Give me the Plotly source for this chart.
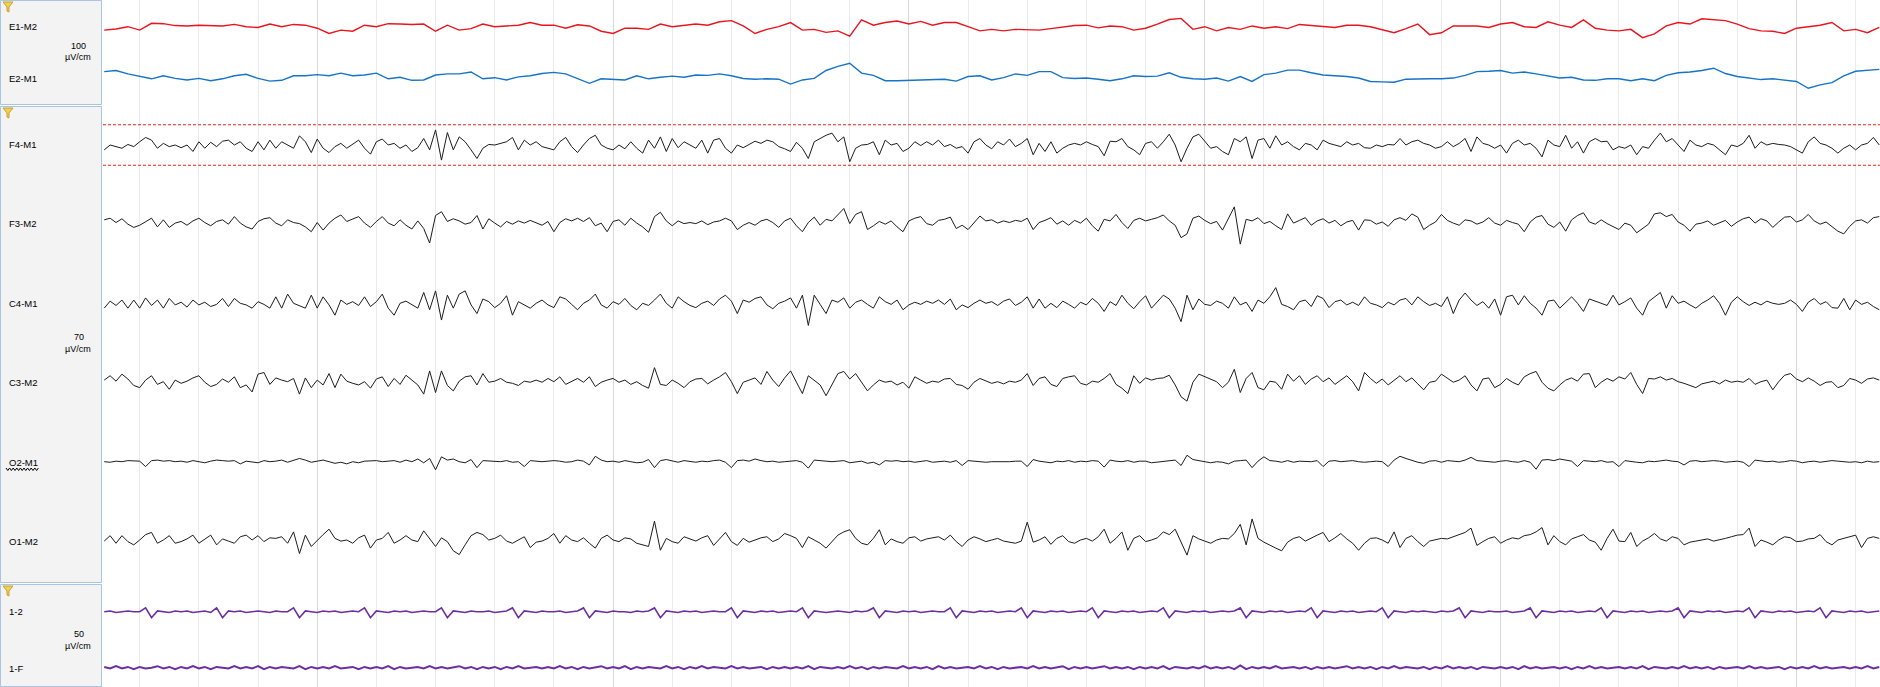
import numpy as np
import plotly.graph_objects as go

W, H = 1880, 687
PLOT_LEFT_PX = 103
T_LEFT, T_RIGHT = 0.3798, 30.412     # seconds visible in the page
PX_PER_CM = 37.8

# ---------------- data (µV, positive = up), EEG/purple sampled every 0.1 s from 0.4 s ----------------
EEG_T0, EEG_DT = 0.4, 0.1
EOG_T0, EOG_DT = 0.4, 0.2

F4_M1 = [-9, 0, -3, -6, 1, -3,
         6, 14, 9, -6, 3, -3, 0, -5, 0, -12,
         6, -6, 5, -3, 7, 9, 0, 6, -6, -12,
         6, -9, 9, -6, 6, 0, -6, 17, 6, -14,
         11, -6, -14, -3, 3, -6, 1, 9, -6, -17,
         6, 11, 0, 3, -6, 0, -12, -5, 12, -9,
         28, -28, 23, -9, 15, 6, -9, -25, -6, 1,
         0, 3, 6, 14, -9, 9, 0, 6, -3, -6,
         -9, 6, 14, -3, -14, 0, 12, 18, 0, -6,
         -9, 0, -7, 6, -6, -15, 9, -6, 15, -12,
         12, -5, 6, 0, -6, 9, -15, 9, 12, -6,
         -15, 0, -5, 1, 7, 3, 9, 6, -3, -7,
         -12, 5, -6, -25, 6, 12, 18, 22, 6, 15,
         -31, -6, 0, 1, 6, -18, 9, 0, 3, -12,
         -6, 6, -1, 6, 0, 9, -3, 1, -6, -3,
         -15, 6, 12, 0, -7, 6, 0, 11, -3, 3,
         12, -18, 3, -12, 6, -15, -6, 0, 3, 0,
         6, 1, -3, -20, 7, 6, 12, -3, -9, -18,
         3, 6, -6, 6, 20, 0, -31, -6, 15, 20,
         6, -6, -3, -12, -18, 12, 6, 15, -25, 9,
         12, -6, 17, 0, 6, -3, -9, 3, 0, -9,
         9, 3, 0, -3, 6, 0, 3, -5, -6, 0,
         -3, 1, 0, 12, 0, 6, 9, 3, 0, -6,
         -3, 6, -3, 3, 12, -12, 15, 3, 0, -6,
         0, -15, 3, 9, 0, 3, -6, -22, 9, 0,
         -3, 18, -6, 6, -15, 6, 12, 6, 7, -9,
         -3, -6, 0, -18, -3, -6, 9, 22, 6, 12,
         0, -12, 9, 0, -3, 3, 0, -9, -18, 0,
         -3, 3, 18, -6, 6, 0, 3, 1, 0, -3,
         -9, -15, 6, 15, 3, 0, -6, -15, -6, 0,
         -9, 0, 3, 14, 0]

F3_M2 = [4, 7, -1, 6, -4, -10,
         -6, 1, 7, -9, 4, -10, -2, 1, -6, 2,
         7, -1, -7, 1, 4, -4, 10, -2, -9, -13,
         1, 6, 8, -2, -7, 4, -1, -3, -9, -18,
         -1, -15, -2, 7, 13, 1, 6, 10, -2, -10,
         1, 10, -2, -7, 4, -6, -13, 2, -12, -39,
         12, 19, 1, 6, 2, -4, -1, 12, -13, 6,
         -2, -9, 1, -4, 2, -2, 3, -1, -6, 1,
         -18, -1, 6, 2, 7, 1, 8, -7, -2, -18,
         1, 4, -6, 7, -2, -9, -19, 10, 18, 2,
         -7, 2, -3, -1, -3, 2, -5, 0, 2, 7,
         2, -14, -6, -1, -6, 2, 5, -1, -10, 2,
         7, -7, -18, -1, 9, -6, 5, 2, 13, 25,
         -3, 14, 19, -14, -7, 1, -4, 2, -9, -18,
         2, 7, 10, -3, -6, 3, 5, 9, -12, -6,
         -14, -1, 11, 2, 4, -2, 2, -1, 3, 1,
         7, -14, -1, 3, 8, -4, 2, -6, 3, -2,
         7, -7, -17, 5, 2, 14, -1, -12, 3, 7,
         2, 5, 8, 13, 2, -6, -29, -22, 7, 11,
         3, -3, 1, -15, 7, 28, -41, 5, 2, 8,
         -3, 1, -7, -14, 15, -2, 3, 8, -6, 2,
         6, -2, 3, -7, 0, 3, -15, 4, 3, -4,
         0, -8, 4, 8, 3, 15, 9, -14, -6, 0,
         14, 3, -2, -6, 4, 2, -4, 0, 8, -2,
         -6, 3, -1, -4, -18, 0, 9, 12, -4, -10,
         0, -17, 4, 12, 17, 0, -4, 4, -3, -8,
         -14, -2, -6, -20, -12, -4, 15, 17, 10, 14,
         0, -6, -17, -4, -2, 2, -6, -1, 3, -8,
         0, 6, 9, -2, 6, 2, -10, 0, 9, 10,
         0, 4, 14, 2, -4, 0, -8, -17, -22, -8,
         2, 4, -2, 8, 10]

C4_M1 = [-9, 4, -4, 6, -9, 6,
         -9, 10, -4, 6, -9, 9, -3, 2, -7, 6,
         -3, 2, -6, -2, 9, -6, 9, 0, -3, -9,
         3, -2, -9, 12, -9, 17, 0, -4, -9, 15,
         -9, 12, -3, -22, 6, -2, 3, -4, 12, -6,
         3, 17, -9, -22, 0, 4, -3, -9, 20, -12,
         23, -31, 15, -9, 17, 23, -3, -19, 8, 3,
         -8, 0, 14, -22, 3, -3, -9, 0, 6, -3,
         -8, 12, 8, -2, -12, 0, 6, 17, -3, -9,
         3, -2, 9, -4, -12, 0, -4, 6, 17, 0,
         -9, 12, 3, -4, -8, 0, 4, -4, 8, 15,
         4, -19, 6, 2, 9, 12, -3, -10, 0, 4,
         10, -9, 15, -41, 15, -2, -19, 6, 2, 10,
         -9, 2, 6, -2, -9, 12, 3, -2, 6, -12,
         -3, 2, -2, 4, 0, 6, -2, 8, -12, -3,
         -8, 0, 6, 0, 3, -4, 4, 8, -4, 2,
         12, -9, 8, -9, 0, -8, 4, -2, -9, 2,
         -3, 9, 0, -15, 3, -4, 15, 0, -10, 3,
         14, -9, 4, 15, 8, -9, -34, 15, -12, 8,
         -2, -4, 4, 0, -9, 12, -3, 2, -15, 6,
         0, 12, 29, -2, -6, -12, 3, 6, -6, 14,
         9, -8, 3, 6, -3, 2, -4, 12, 0, -3,
         -8, 2, -3, 6, 9, -3, 12, 3, -4, 0,
         -6, 12, -19, 6, 19, 6, -4, 3, -9, 8,
         -22, 12, 15, -3, 14, 0, -9, -22, 4, 6,
         -9, 2, 12, 0, -15, 8, 4, 0, -4, 15,
         -3, 3, 10, -9, -22, 3, 12, 20, -9, 14,
         0, 4, -3, -9, 0, 6, 14, 0, -22, 2,
         12, 3, -4, 2, -3, 4, 0, -2, 0, 6,
         -2, -15, 2, 9, -2, 3, -8, -9, 9, -12,
         6, -2, 2, -6, -12]

C3_M2 = [3, 11, 1, 14, 5, -7,
         -11, 3, 11, -5, 0, -14, 3, -3, 1, 7,
         11, -1, -9, -5, 5, -1, 9, -11, -6, -19,
         14, 17, -5, 7, 3, 0, 6, -23, 7, -11,
         3, -6, 15, -11, 14, 1, -3, -6, 0, -12,
         5, 9, -9, 6, -5, 12, 3, -6, -23, 20,
         -20, 20, -7, -17, 1, 9, 11, -6, 15, -1,
         1, 6, -1, -3, -7, 1, -1, 3, -1, 6,
         0, 9, -5, 1, 6, -1, 9, -9, -1, 3,
         6, -1, 3, -5, 0, -7, -12, 26, -5, -7,
         3, -3, -11, 0, 5, 6, -4, 3, 9, 17,
         0, -22, -1, 3, 7, -5, 19, 3, -9, 7,
         20, -1, -22, 11, 3, -6, -26, -6, 15, 19,
         5, 15, 0, -17, -6, 3, -1, 1, -6, -1,
         -12, 9, 3, -3, 1, -1, 5, 6, -5, -7,
         -14, -1, 6, 1, -3, 0, -4, 1, -1, 3,
         15, -7, 6, 9, -5, -9, 6, 9, 11, -3,
         -6, 1, -1, 6, 15, -5, -12, -22, 11, -3,
         7, 3, 6, 7, 12, -6, -28, -36, -1, 14,
         9, 5, 0, -11, -1, 23, -20, 6, 17, -11,
         -15, 1, -1, -14, 14, 1, 11, -5, 5, 11,
         0, 7, -5, 3, 11, 0, -17, 17, 6, -3,
         5, -6, 3, 11, 0, 7, -4, -15, -1, 1,
         14, 6, -1, 3, 11, -6, -17, 5, 7, -11,
         -5, 6, -1, -6, 9, 15, 19, -1, -12, -17,
         -6, 3, 7, 1, 14, 15, -11, -1, 6, 1,
         9, 5, 17, -5, -22, 6, 5, 9, 3, 6,
         0, -3, -7, -11, -4, -1, 1, -4, 3, -1,
         1, -1, 6, -5, 0, 3, -15, 0, 12, 15,
         5, 0, 7, 1, -7, -1, 0, -11, -7, 6,
         3, -3, 5, 7, 3]

O2_M1 = [0, -1, 1, 0, 2, 1,
         1, -9, 2, 3, 1, 2, 0, 1, -1, 2,
         0, -2, 1, 3, 2, 1, 2, -4, 1, 0,
         -2, 2, 0, 1, 3, -1, 2, 6, 3, -1,
         1, 3, 0, -3, -1, -4, 0, -2, 1, 2,
         2, 0, 1, 2, -1, 3, 0, 5, -2, 6,
         -15, 9, 3, 5, 0, -2, 4, -11, 2, 1,
         1, 0, 2, -1, 0, -9, 2, 1, 0, 1,
         2, 1, -1, 0, 3, 1, -6, 10, 3, 0,
         1, -1, 2, 0, -2, -1, 4, -11, 2, 4,
         1, -1, 2, 0, -1, 1, 0, 2, 3, -1,
         -11, 2, 3, 1, 5, 2, 0, 1, -1, 0,
         1, 2, -1, -12, 3, 2, 1, 0, 1, 2,
         -2, 0, 1, -3, -1, -6, 2, 1, 2, 0,
         1, -1, 0, 2, -1, 0, 1, -1, 2, -7,
         2, 1, 0, -1, 0, 0, -1, 0, 1, 1,
         -9, 4, 1, 0, -2, 1, 0, 2, -1, 1,
         0, 2, 1, -10, 3, 1, 0, 2, -1, 1,
         1, -2, -1, 0, 2, 3, -7, 12, 4, 2,
         1, -2, 0, -1, -4, 1, 2, 3, -11, 1,
         9, 2, 1, -1, 2, -1, 1, 0, 0, 2,
         -9, 1, 2, 0, 1, 2, 0, -1, 0, 1,
         0, -9, 3, 10, 6, 2, -1, -3, 1, 2,
         -1, 2, 1, 0, 3, 8, 2, 1, 0, -1,
         1, 2, 0, -1, 2, -1, -14, 3, 4, 2,
         5, 3, 1, -9, 2, 1, 0, 2, -1, 0,
         -9, 2, 0, -1, -2, 1, 0, 2, 3, 1,
         0, -6, 1, 2, 0, 1, 2, 1, -1, 0,
         1, -1, -9, 3, 2, 0, 1, -1, 0, 2,
         1, -2, 0, 1, -1, 0, 2, 1, 0, -1,
         0, -2, 1, -1, 0]

O1_M2 = [-2, 8, -6, 8, -3, -9,
         0, 10, 14, -6, 0, 8, -6, -3, 2, 9,
         -6, 2, 9, -9, 2, -2, -6, 6, 9, 0,
         8, -3, 4, 3, 6, -6, 15, -25, 9, -12,
         0, 10, 20, 3, -2, 0, -6, 4, 9, -15,
         0, 3, 14, -6, 0, 8, 0, -3, 17, 3,
         -12, 4, -3, -20, -27, -9, 8, 14, 10, 0,
         3, 9, -2, -6, 0, 6, -14, -4, -2, 3,
         12, -6, 8, 0, -3, 4, -6, -15, 3, 9,
         0, -3, 4, 2, -6, -9, -12, 35, -19, 3,
         -3, -6, 6, 2, -2, 4, 8, -10, 2, 14,
         -3, -10, 3, -4, 0, 4, 6, -3, 2, 12,
         8, 3, -14, 6, 0, -6, -15, -2, 9, 15,
         19, 3, -6, -9, 3, 19, -9, 2, -3, -6,
         4, 6, -2, 2, 4, 6, 0, 9, -3, -12,
         0, 6, 2, -3, 0, 3, -2, -4, -6, -2,
         33, -4, 0, 6, -8, 3, 8, -3, -6, 0,
         3, -2, 6, 20, -6, 3, 15, -19, 3, 8,
         -3, 0, 4, 15, 10, 20, -3, -28, 8, 2,
         -2, -6, 0, 3, 2, 12, 29, -9, 39, 3,
         -4, -10, -15, -20, -4, 3, 6, -2, 4, 9,
         14, -3, 4, 12, 2, -6, -19, -6, 3, 4,
         0, -6, 15, -14, 3, 8, -3, -12, -2, 0,
         3, 2, 6, 9, 14, 22, -10, -3, 3, 6,
         -6, 0, 4, 2, 8, 10, 15, 23, -9, 8,
         -3, -9, 2, 6, 10, 0, -4, -19, 3, 20,
         -2, -3, 14, -12, -2, 4, 12, 2, -2, 6,
         3, -9, -4, -2, 0, 2, -2, 0, 3, 6,
         9, 10, 22, -12, 0, -4, -9, 0, 6, 4,
         -3, -2, 2, 3, 10, -3, -9, 0, 3, 6,
         9, -14, 3, 6, 3]

# EOG, every 0.2 s from 0.4 s
E1_M2 = [-9, -6, 0, -9, 9, 8, 3, 2, 4, 2, 2, 6, 0, -2, 7, 0, 6, 4, -4, -18,
         -9, -12, 4, 0, 8, 7, 6, 7, -12, 4, -9, -5, 7, 0, 2, 4, 11, 4, 4, -4,
         5, 2, -12, -18, -4, -4, -7, 7, 0, 4, 7, 4, 13, 16, 2, -18, -7, 0, 11,
         -9, -7, -15, -11, -25, 18, 4, 11, 15, 7, 14, 4, 11, 11, 0, -11, -7, -11, -7, -9,
         -9, -5, 0, 3, 4, -3, 2, 0, -9, -4, 7, 19, 22, -7, 0, -11, -2, -7, 2, -4,
         0, -5, 6, 4, 0, -2, 4, 4, 0, -9, -16, -5, 7, -21, -16, 2, 2, 2, -2,
         7, 11, 0, -2, 13, 4, -2, 18, -4, -9, -11, -7, -29, -19, 2, 11, 7, 21, 18, 16,
         7, -5, -11, -12, -18, -4, 0, 4, 11, -11, -7, -16, -2]

E2_M1 = [15, 18, 9, 2, -4, 4, -3, -7, -3, -9, -4, 4, 8, -3, -10, -8, 4, 4, 7, 4,
         11, 4, 6, 11, -4, 0, -8, -7, 6, 9, 9, 14, -4, -1, -7, 1, 4, 10, 13, 9,
         -3, -16, -4, -5, -7, 4, -4, 0, 3, 0, 6, 5, 9, 4, -3, -5, -4, -5, -18,
         -7, -3, 18, 29, 37, 11, 5, -9, -9, -8, -8, -5, -5, -10, 2, 4, -7, -1, 9, 5,
         15, 15, -1, -3, -2, -5, -9, -4, 4, 2, 3, 12, 0, -4, -5, -2, -10, 2, -11, 7,
         11, 19, 19, 12, 6, 4, 2, -2, -11, -12, -13, -5, -4, -4, -4, -2, 5, 15, 16,
         18, 11, 14, 9, 4, -2, 0, -7, -8, -4, -4, -9, -4, -9, 5, 12, 14, 18, 24, 10,
         2, -3, -6, -4, -7, -11, -29, -20, -14, 4, 16, 19, 21]

CH_1_2 = [0, 1, -1, 0, 1, 0,
          0, 5, -8, 1, 0, -1, 1, 0, 1, -1,
          0, 1, -1, 5, -8, 1, 0, 1, -1, 0,
          1, 0, -1, 1, 0, 0, 5, -8, 1, 0,
          -1, 1, 0, 1, -1, 0, 1, 0, 5, -8,
          1, 0, -1, 1, 0, 1, -1, 0, 1, 0,
          0, 5, -8, 1, 0, -1, 1, 0, 0, 1,
          -1, 0, 1, 5, -8, 1, 0, -1, 1, 0,
          0, 1, -1, 0, 1, 5, -8, 1, 0, -1,
          1, 0, 0, -1, 1, 0, 1, 5, -8, 1,
          0, -1, 1, 0, 1, -1, 0, 1, 0, 0,
          5, -8, 1, 0, -1, 1, 0, 1, -1, 0,
          1, 0, 5, -8, 1, 0, -1, 0, 1, 0,
          -1, 1, 0, 1, 5, -8, 1, 0, -1, 1,
          0, 1, -1, 0, 1, 0, 0, 5, -8, 1,
          0, -1, 1, 0, 1, -1, 0, 1, 0, 5,
          -8, 1, 0, -1, 1, 0, 1, -1, 0, 1,
          0, 5, -8, 1, 0, -1, 1, 0, 1, -1,
          0, 1, 0, 5, -8, 1, 0, -1, 1, 0,
          1, -1, 0, 1, 0, 1, 5, -8, 1, 0,
          -1, 1, 0, 1, -1, 0, 1, 0, 5, -8,
          1, 0, -1, 1, 0, 1, -1, 0, 1, 0,
          5, -8, 1, 0, -1, 1, 0, 1, 0, -1,
          1, 0, 1, 5, -8, 1, 0, -1, 1, 0,
          0, 1, -1, 0, 1, 5, -8, 1, 0, -1,
          1, 0, 1, -1, 0, 1, 0, 5, -8, 1,
          0, -1, 1, 0, 1, -1, 0, 1, 0, 1,
          5, -8, 1, 0, -1, 1, 0, 1, -1, 0,
          1, 0, 5, -8, 1, 0, -1, 1, 0, 1,
          -1, 0, 1, 0, 5, -8, 1, 0, -1, 1,
          0, 1, -1, 0, 1]

CH_1_F = [1, -1, 2, -1, 1, -2,
          1, -1, 0, 2, -1, 1, -2, 1, -1, 2,
          -1, 1, -2, 1, 0, -1, 2, -1, 1, -1,
          2, -2, 1, -1, 1, 0, -1, 2, -2, 1,
          -1, 1, -1, 2, -1, 0, 1, -2, 1, -1,
          1, -1, 2, -2, 1, -1, 0, 1, -1, 2,
          -1, 1, -1, 0, 2, -1, 1, -2, 1, -1,
          1, -2, 1, -1, 2, -1, 0, 1, -1, 1,
          -1, 2, -1, 1, -2, 1, -1, 0, 2, -1,
          1, -1, 2, -2, 1, -1, 1, 0, -1, 2,
          -1, 1, -2, 1, -1, 2, -1, 1, 0, -1,
          2, -1, 1, -1, 0, 1, -2, 1, -1, 1,
          -1, 1, -1, 2, -2, 1, 0, -1, 1, -1,
          2, -1, 1, -2, 1, -1, 1, 0, -1, 2,
          -1, 1, -1, 1, -2, 2, -1, 1, -1, 0,
          1, -1, 2, -1, 1, -2, 1, -1, 0, 1,
          -1, 2, -1, 1, -1, 0, 2, -2, 1, -1,
          1, -1, 0, 2, -1, 1, -1, 1, -2, 1,
          -1, 1, -1, 2, -2, 1, 0, -1, 1, -1,
          2, -1, 1, -1, 1, -2, 3, -2, 1, -1,
          1, -1, 2, -1, 0, 1, -1, 1, -2, 1,
          -1, 1, -1, 0, 2, -1, 1, -1, 1, -2,
          1, -1, 2, -1, 1, 0, -1, 1, -2, 1,
          -1, 2, -1, 1, -1, 1, -2, 1, 0, -1,
          1, -1, 1, -2, 2, -1, 1, -1, 0, 1,
          -1, 1, -2, 1, -1, 2, -1, 1, -1, 0,
          1, -1, 1, -1, 2, -2, 1, 0, -1, 1,
          -1, 2, -1, 1, -1, 1, -2, 1, -1, 0,
          1, -1, 2, -1, 1, -1, 0, 1, -2, 1,
          -1, 1, -1, 2, -1, 1, -1, 0, 1, -1,
          1, -1, 2, -1, 1]

# channel list: name, values, t0, dt, baseline px from top, µV/cm, colour, width
CHANNELS = [
    ("E1-M2", E1_M2, EOG_T0, EOG_DT, 26.7, 100, "#e8141e", 1.4),
    ("E2-M1", E2_M1, EOG_T0, EOG_DT, 77.3, 100, "#1674c6", 1.4),
    ("F4-M1", F4_M1, EEG_T0, EEG_DT, 145.0, 70, "#1c1c1c", 1.0),
    ("F3-M2", F3_M2, EEG_T0, EEG_DT, 222.0, 70, "#1c1c1c", 1.0),
    ("C4-M1", C4_M1, EEG_T0, EEG_DT, 303.3, 70, "#1c1c1c", 1.0),
    ("C3-M2", C3_M2, EEG_T0, EEG_DT, 381.7, 70, "#1c1c1c", 1.0),
    ("O2-M1", O2_M1, EEG_T0, EEG_DT, 461.7, 70, "#1c1c1c", 1.0),
    ("O1-M2", O1_M2, EEG_T0, EEG_DT, 540.0, 70, "#1c1c1c", 1.0),
    ("1-2", CH_1_2, EEG_T0, EEG_DT, 611.7, 50, "#6b2fa0", 1.6),
    ("1-F", CH_1_F, EEG_T0, EEG_DT, 667.7, 50, "#6b2fa0", 2.0),
]
LABEL_Y = [27, 78, 145, 224, 303, 382, 462, 541, 611, 668]
SCALES = [("100", 46, 57), ("70", 337, 349), ("50", 634, 646)]
F4_DASH_UV = 37.5

# ---------------- figure ----------------
def px(x):
    return x / W


def py(y):
    return 1 - y / H


x_dom = [PLOT_LEFT_PX / W, 1]
baselines = [c[4] for c in CHANNELS]
bounds = [0.0] + [(a + b) / 2 for a, b in zip(baselines[:-1], baselines[1:])] + [float(H)]

fig = go.Figure()
layout_axes = {}
f4_axis = None
for i, (name, vals, t0, dt, yb, scale, color, width) in enumerate(CHANNELS):
    k = "" if i == 0 else str(i + 1)
    uv_per_px = scale / PX_PER_CM
    top, bot = bounds[i], bounds[i + 1]
    t = t0 + dt * np.arange(len(vals))
    fig.add_trace(go.Scatter(
        x=t, y=vals, mode="lines", name=name,
        line=dict(color=color, width=width),
        xaxis=f"x{k}", yaxis=f"y{k}", hoverinfo="skip", showlegend=False))
    layout_axes[f"xaxis{k}"] = dict(
        domain=x_dom, range=[T_LEFT, T_RIGHT], anchor=f"y{k}",
        showgrid=True, gridcolor="#d9d9d9", gridwidth=1, tick0=4, dtick=5,
        minor=dict(tick0=0, dtick=1, showgrid=True, gridcolor="#ebebeb", gridwidth=1),
        showticklabels=False, ticks="", zeroline=False, showline=False, fixedrange=True)
    layout_axes[f"yaxis{k}"] = dict(
        domain=[py(bot), py(top)], anchor=f"x{k}",
        range=[-(bot - yb) * uv_per_px, (yb - top) * uv_per_px],
        visible=False, showgrid=False, zeroline=False, fixedrange=True)
    if name == "F4-M1":
        f4_axis = f"y{k}"

fig.update_layout(
    width=W, height=H,
    margin=dict(l=0, r=0, t=0, b=0, pad=0),
    paper_bgcolor="white", plot_bgcolor="white",
    showlegend=False, hovermode=False,
    **layout_axes,
)

shapes = []
# left label panels
for y0, y1 in [(0.5, 104.5), (106.5, 582.5), (584.5, 686.5)]:
    shapes.append(dict(type="rect", xref="paper", yref="paper",
                       x0=px(0.5), x1=px(101.5), y0=py(y1), y1=py(y0),
                       fillcolor="#f3f3f3", line=dict(color="#aac5e2", width=1), layer="below"))


def funnel(x, y):
    pts = [(x, y), (x + 10, y), (x + 6, y + 5), (x + 6, y + 10), (x + 4, y + 9), (x + 4, y + 5)]
    d = "M " + " L ".join(f"{px(a):.6f},{py(b):.6f}" for a, b in pts) + " Z"
    return dict(type="path", xref="paper", yref="paper", path=d,
                fillcolor="#f0cf5a", line=dict(color="#c9a227", width=1))


for fy in (2, 108, 586):
    shapes.append(funnel(3, fy))

# wavy underline under O2-M1
pts = []
xw = 6.0
n = 0
while xw <= 40:
    pts.append((xw, 468.0 if n % 2 == 0 else 470.5))
    xw += 1.8
    n += 1
shapes.append(dict(type="path", xref="paper", yref="paper",
                   path="M " + " L ".join(f"{px(a):.6f},{py(b):.6f}" for a, b in pts),
                   line=dict(color="#000000", width=1)))

# F4 75 µV peak-to-peak guide lines
for v in (F4_DASH_UV, -F4_DASH_UV):
    shapes.append(dict(type="line", xref="paper", yref=f4_axis,
                       x0=x_dom[0], x1=1, y0=v, y1=v,
                       line=dict(color="#e4201c", width=1, dash="3px,2px")))

fig.update_layout(shapes=shapes)

annotations = []
FONT = "Liberation Sans, Arial, sans-serif"
for (name, *_), ly in zip(CHANNELS, LABEL_Y):
    annotations.append(dict(text=name, xref="paper", yref="paper", x=px(7), y=py(ly),
                            xanchor="left", yanchor="middle", showarrow=False,
                            font=dict(family=FONT, size=9.5, color="#000000")))
for val, y_val, y_unit in SCALES:
    annotations.append(dict(text=val, xref="paper", yref="paper", x=px(78.5), y=py(y_val),
                            xanchor="center", yanchor="middle", showarrow=False,
                            font=dict(family=FONT, size=9, color="#000000")))
    annotations.append(dict(text="µV/cm", xref="paper", yref="paper", x=px(78), y=py(y_unit),
                            xanchor="center", yanchor="middle", showarrow=False,
                            font=dict(family=FONT, size=9, color="#000000")))
fig.update_layout(annotations=annotations)

fig.write_html("out.html", config={"displayModeBar": False},
               post_script="document.body.style.margin='0';document.body.style.overflow='hidden';")
